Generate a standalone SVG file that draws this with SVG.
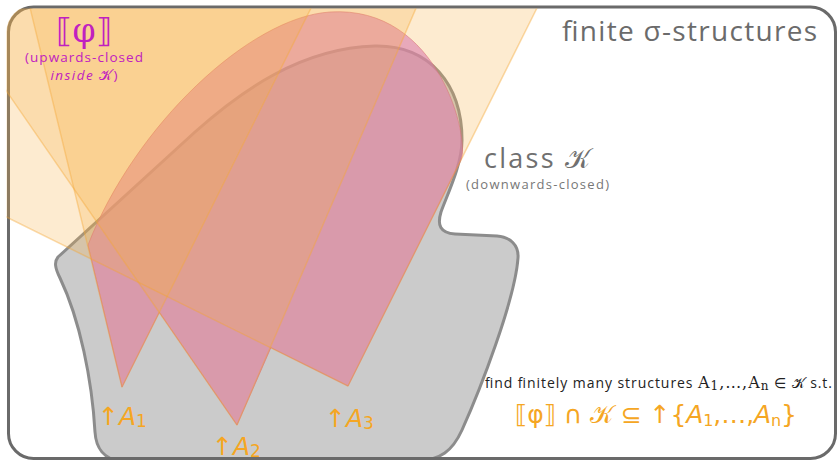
<svg xmlns="http://www.w3.org/2000/svg" width="839" height="460" viewBox="0 0 839 460">
<style>
.cone{fill:#f7af43;fill-opacity:0.25;stroke:#f5a530;stroke-opacity:0.4;stroke-width:1.5;stroke-linejoin:round}
.sans{font-family:"Open Sans",Lato,"DejaVu Sans",sans-serif}
.math{font-family:"DejaVu Sans",sans-serif}
.gray{fill:#6b6b6b}
.mag{fill:#c020c0}
.org{fill:#f5a623}
</style>
<defs>
<clipPath id="clipRound"><rect x="6.5" y="5.5" width="831" height="456" rx="26.5"/></clipPath>
<clipPath id="clipTop"><rect x="0" y="8.5" width="839" height="460"/></clipPath>
</defs>
<rect width="839" height="460" fill="#ffffff"/>
<g id="classK">
<path d="M58,257 L195,132 C240,92 300,48 375,46 C430,45 462,85 462,140 C462,165 447,195 441,212 C437,225 440,233 455,234 L497,236 C510,237 519,245 518,258 C515,300 480,390 462,430 C452,452 440,459 420,461 L120,461 C104,459 96,448 95,432 C92,380 80,320 60,278 C55,268 54,262 58,257 Z" fill="#cbcbcb" stroke="#8c8c8c" stroke-width="3"/>
</g>
<g id="universe">
<rect x="8.5" y="7" width="827" height="451.5" rx="25" fill="none" stroke="#6a6a6a" stroke-width="3"/>
</g>
<g id="phi">
<path d="M122,387 L159.3,312.3 L237,425 L270.9,347.6 L348,386 L461,160 C470,140 440,5 330,12 C250,17 135,125 88,245 Z" fill="#d271d0" fill-opacity="0.62" stroke="#d0608c" stroke-opacity="0.6" stroke-width="1" stroke-linejoin="round"/>
</g>
<g id="connectors" clip-path="url(#clipRound)">
<g clip-path="url(#clipTop)">
<g id="upA1"><polygon class="cone" points="122,387 16,-50 340,-50"/></g>
<g id="upA2"><polygon class="cone" points="237,425 -91,-50 441,-50"/></g>
<g id="upA3"><polygon class="cone" points="348,386 -400,16 -400,-50 566,-50"/></g>
</g>
</g>
<g id="labels">
<text class="mag" x="84" y="42" font-size="33" text-anchor="middle" font-family="DejaVu Serif, serif">⟦φ⟧</text>
<text class="sans mag" x="84" y="62" font-size="13.5" text-anchor="middle" textLength="118">(upwards-closed</text>
<text class="sans mag" x="84" y="80" font-size="13.5" text-anchor="middle" textLength="67"><tspan font-style="italic">inside</tspan> 𝒦)</text>
<text class="sans gray" x="817" y="41" font-size="28" text-anchor="end" textLength="255">finite σ-structures</text>
<text class="sans" x="537" y="168" font-size="27" text-anchor="middle" fill="#707070" textLength="106">class 𝒦</text>
<text class="sans" x="537.5" y="189" font-size="13" text-anchor="middle" fill="#777777" textLength="143">(downwards-closed)</text>
<text class="math org" x="98" y="425" font-size="25">↑<tspan font-style="italic">A</tspan><tspan font-size="17" dy="2">1</tspan></text>
<text class="math org" x="212" y="455" font-size="25">↑<tspan font-style="italic">A</tspan><tspan font-size="17" dy="2">2</tspan></text>
<text class="math org" x="325" y="427" font-size="25">↑<tspan font-style="italic">A</tspan><tspan font-size="17" dy="2">3</tspan></text>
<text class="sans" x="485" y="388" font-size="14" fill="#222222" textLength="347">find finitely many structures <tspan font-family="DejaVu Serif, serif" font-size="16">A<tspan font-size="12" dy="2">1</tspan><tspan dy="-2">,…,A</tspan><tspan font-size="12" dy="2">n</tspan></tspan><tspan dy="-2"> ∈ 𝒦 s.t.</tspan></text>
<text class="math org" x="515" y="423" font-size="25" textLength="282">⟦φ⟧ ∩ 𝒦 ⊆ ↑{<tspan font-style="italic">A</tspan><tspan font-size="16" dy="3">1</tspan><tspan dy="-3">,…,</tspan><tspan font-style="italic">A</tspan><tspan font-size="16" dy="3">n</tspan><tspan dy="-3">}</tspan></text>
</g>
</svg>
